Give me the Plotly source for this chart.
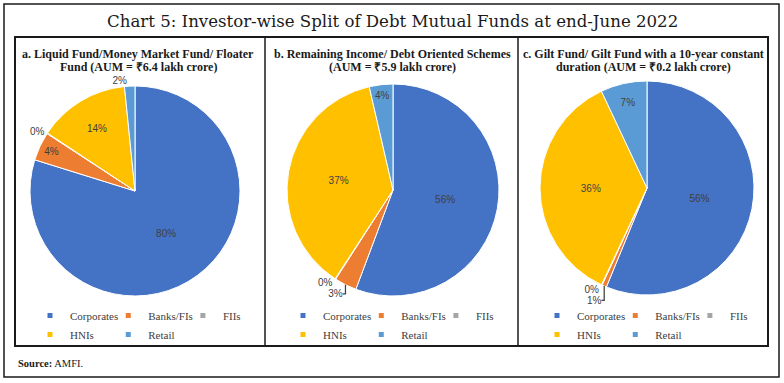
import plotly.graph_objects as go

# ---------------- data ----------------
categories = ["Corporates", "Banks/FIs", "FIIs", "HNIs", "Retail"]
liquid_share = [79.8, 4.4, 0.1, 14.1, 1.6]      # a. Liquid / Money Market / Floater
income_share = [55.7, 3.4, 0.1, 37.2, 3.6]      # b. Remaining Income / Debt Oriented
gilt_share = [56.2, 0.7, 0.1, 36.0, 7.0]        # c. Gilt / 10-year constant duration

panel_titles = [
    ["a. Liquid Fund/Money Market Fund/ Floater", "Fund (AUM = ₹6.4 lakh crore)"],
    ["b. Remaining Income/ Debt Oriented Schemes", "(AUM = ₹5.9 lakh crore)"],
    ["c. Gilt Fund/ Gilt Fund with a 10-year constant", "duration (AUM = ₹0.2 lakh crore)"],
]
chart_title = "Chart 5: Investor-wise Split of Debt Mutual Funds at end-June 2022"
source_note = "<b>Source:</b> AMFI."

# ---------------- styling ----------------
W, H = 784, 383
colors = ["#4472C4", "#ED7D31", "#A5A5A5", "#FFC000", "#5B9BD5"]
SERIF = "Liberation Serif"
label_font = dict(family="Liberation Sans", size=10, color="#404040")
text_pos = [
    ["inside", "inside", "outside", "inside", "outside"],
    ["inside", "outside", "outside", "inside", "inside"],
    ["inside", "outside", "outside", "inside", "inside"],
]
pie_geom = [(135, 191, 105), (393, 190, 106), (647, 188, 107)]   # centre x, centre y, radius (px)
panel_centres = [138, 392, 643]
legend_left = [45, 298, 552]


def domain(cx, cy, r):
    return dict(x=[(cx - r) / W, (cx + r) / W], y=[(H - cy - r) / H, (H - cy + r) / H])


fig = go.Figure()
series = [liquid_share, income_share, gilt_share]
legend_ids = ["legend", "legend2", "legend3"]
for i, vals in enumerate(series):
    cx, cy, r = pie_geom[i]
    fig.add_trace(go.Pie(
        labels=categories, values=vals, sort=False, direction="clockwise", rotation=0,
        marker=dict(colors=colors, line=dict(color="white", width=1)),
        texttemplate="%{percent:.0%}", textposition=text_pos[i],
        insidetextorientation="horizontal",
        textfont=label_font, insidetextfont=label_font, outsidetextfont=label_font,
        domain=domain(cx, cy, r), showlegend=False, hoverinfo="label+percent",
        name=panel_titles[i][0],
    ))

# legend entries (one per category, per panel) arranged as Excel-style two rows
groups = ["g1", "g2", "g3", "g1", "g2"]
for i in range(3):
    for k, cat in enumerate(categories):
        fig.add_trace(go.Scatter(
            x=[None], y=[None], mode="markers", name=cat,
            marker=dict(symbol="square", size=5, color=colors[k]),
            legend=legend_ids[i], legendgroup=f"p{i}{groups[k]}", showlegend=True,
        ))

fig.update_xaxes(visible=False)
fig.update_yaxes(visible=False)

legend_common = dict(
    orientation="h", traceorder="grouped", xanchor="left", yanchor="top",
    font=dict(family=SERIF, size=11, color="#404040"), bgcolor="rgba(0,0,0,0)",
    itemclick=False, itemdoubleclick=False, tracegroupgap=0, indentation=-15,
)
for i, lid in enumerate(legend_ids):
    fig.update_layout({lid: dict(legend_common, x=legend_left[i] / W, y=(H - 301) / H)})

annotations = [
    dict(text=chart_title, x=392 / W, y=(H - 22) / H, xref="paper", yref="paper",
         showarrow=False, font=dict(family="DejaVu Serif", size=16.6, color="#1a1a1a"),
         xanchor="center", yanchor="middle"),
    dict(text=source_note, x=16 / W, y=(H - 363) / H, xref="paper", yref="paper",
         showarrow=False, font=dict(family=SERIF, size=10.5, color="#1a1a1a"),
         xanchor="left", yanchor="middle"),
]
for i, lines in enumerate(panel_titles):
    for j, line in enumerate(lines):
        annotations.append(dict(
            text=f"<b>{line}</b>", x=panel_centres[i] / W, y=(H - (54 + 13 * j)) / H,
            xref="paper", yref="paper", showarrow=False,
            font=dict(family=SERIF, size=12, color="#1a1a1a"),
            xanchor="center", yanchor="middle", align="center",
        ))


def px_rect(x0, y0, x1, y1, width, color="#1a1a1a"):
    return dict(type="rect", xref="paper", yref="paper",
                x0=x0 / W, x1=x1 / W, y0=(H - y1) / H, y1=(H - y0) / H,
                line=dict(color=color, width=width), fillcolor="rgba(0,0,0,0)")


def px_line(x0, y0, x1, y1, width, color="#1a1a1a"):
    return dict(type="line", xref="paper", yref="paper",
                x0=x0 / W, x1=x1 / W, y0=(H - y0) / H, y1=(H - y1) / H,
                line=dict(color=color, width=width))


shapes = [
    px_rect(4, 4, 779, 377, 1.5),
    px_rect(15, 37, 768, 346, 2),
    px_line(265, 37, 265, 346, 1.5),
    px_line(518, 37, 518, 346, 1.5),
]

fig.update_layout(
    width=W, height=H, margin=dict(l=0, r=0, t=0, b=0),
    paper_bgcolor="white", plot_bgcolor="white",
    annotations=annotations, shapes=shapes,
)

fig.write_html("out.html", config={"displayModeBar": False},
               post_script="document.body.style.margin='0px';")
